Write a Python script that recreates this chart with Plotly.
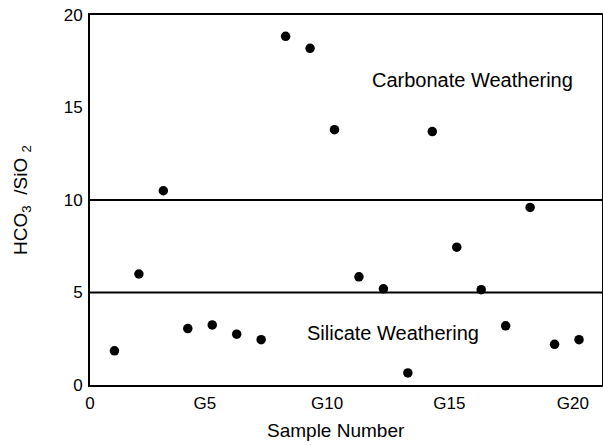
import plotly.graph_objects as go

samples = list(range(1, 21))
ratio = [1.85, 6.0, 10.5, 3.05, 3.25, 2.75, 2.45, 18.85, 18.2, 13.8,
         5.85, 5.2, 0.65, 13.7, 7.45, 5.15, 3.2, 9.6, 2.2, 2.45]
thresholds = [5, 10]
xtick_vals = [0, 4.7, 9.7, 14.7, 19.75]
xtick_text = ["0", "G5", "G10", "G15", "G20"]
ytick_vals = [0, 5, 10, 15, 20]
region_labels = ["Carbonate Weathering", "Silicate Weathering"]
region_pos = [(15.66, 16.5), (12.4, 2.8)]
x_title = "Sample Number"
y_title = "HCO<sub>3</sub>  /SiO <sub>2</sub>"

FONT = "Liberation Sans, Arial, sans-serif"

fig = go.Figure()
fig.add_trace(go.Scatter(
    x=samples, y=ratio, mode="markers",
    marker=dict(color="black", size=9.5),
    showlegend=False,
))

for t in thresholds:
    fig.add_shape(type="line", xref="paper", x0=0, x1=1, yref="y", y0=t, y1=t,
                  line=dict(color="black", width=2))

for txt, (px, py) in zip(region_labels, region_pos):
    fig.add_annotation(x=px, y=py, text=txt, showarrow=False,
                       font=dict(family=FONT, size=20, color="black"))

fig.add_annotation(xref="paper", yref="paper", x=0.48, y=-0.122, text=x_title,
                   showarrow=False, yanchor="middle",
                   font=dict(family=FONT, size=19, color="black"))
fig.add_annotation(xref="paper", yref="paper", x=-0.133, y=0.5, text=y_title,
                   showarrow=False, textangle=-90, xanchor="center",
                   font=dict(family=FONT, size=19, color="black"))

fig.update_layout(
    width=603, height=445,
    margin=dict(l=90, r=1, t=15, b=60),
    plot_bgcolor="white", paper_bgcolor="white",
    font=dict(family=FONT, size=17, color="black"),
    xaxis=dict(range=[0, 20.94], showgrid=False, zeroline=False,
               showline=True, linecolor="black", linewidth=2, mirror=True,
               tickvals=xtick_vals, ticktext=xtick_text, ticks="",
               ticklabelstandoff=2, automargin=False),
    yaxis=dict(range=[0, 20], showgrid=False, zeroline=False,
               showline=True, linecolor="black", linewidth=2, mirror=True,
               tickvals=ytick_vals, ticks="", ticklabelstandoff=2, automargin=False),
)

fig.write_html("out.html", config={"displayModeBar": False},
               post_script="document.body.style.margin='0';")
